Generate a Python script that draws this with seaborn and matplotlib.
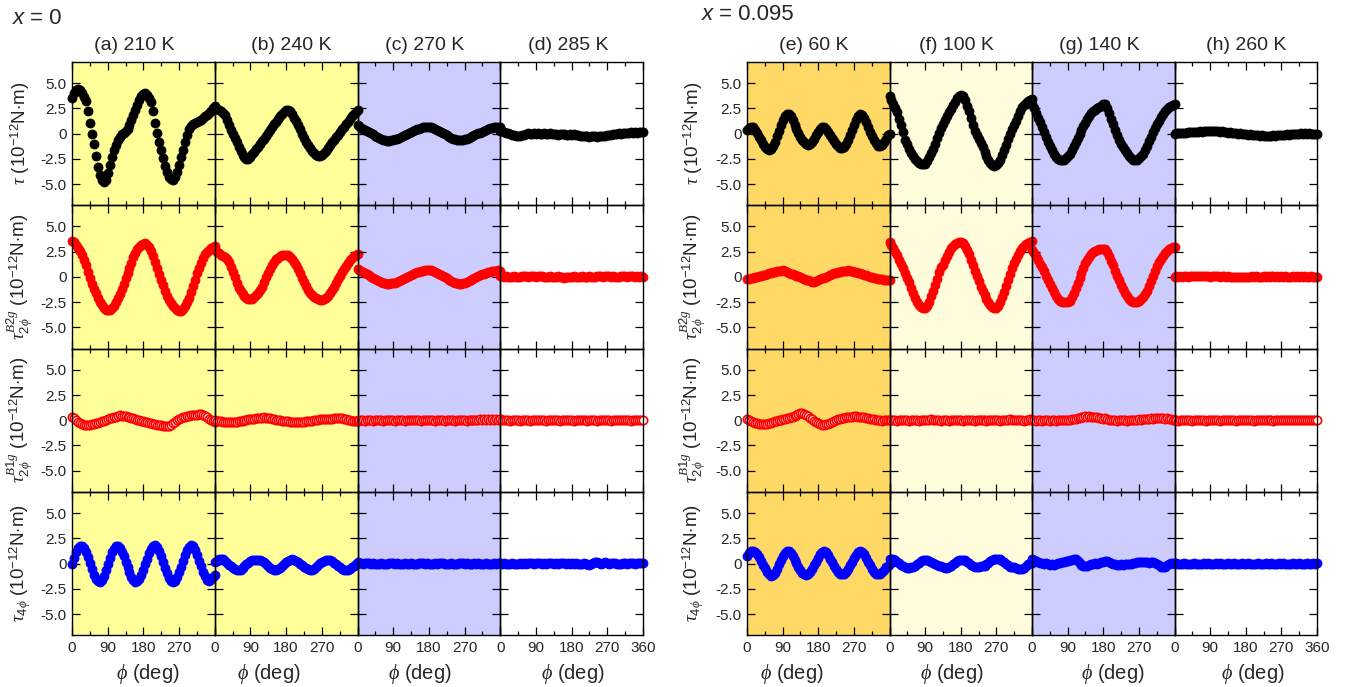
import numpy as np
import pandas as pd
import matplotlib
matplotlib.use("Agg")
import matplotlib.pyplot as plt
from matplotlib.patches import Rectangle
import seaborn as sns

# Rotation angle phi (deg), one reading every 5 degrees
phi = np.arange(0, 361, 5)

# ---------------- x = 0 ----------------
# (a) 210 K
tau_a = [3.5, 4.0, 4.3, 4.4, 4.3, 4.0, 3.6, 3.2, 2.2,
         1.1, 0.0, -1.0, -2.2, -3.3, -4.1, -4.6, -4.8, -4.6,
         -3.9, -3.1, -2.3, -1.6, -1.1, -0.6, -0.3, -0.05, 0.1,
         0.3, 0.5, 0.9, 1.35, 1.8, 2.3, 2.8, 3.3, 3.7,
         3.9, 4.0, 3.8, 3.5, 3.1, 2.2, 1.1, 0.1, -0.8,
         -1.6, -2.4, -3.2, -3.8, -4.3, -4.5, -4.55, -4.3, -3.8,
         -3.1, -2.3, -1.6, -0.8, -0.1, 0.45, 0.75, 0.95, 1.1,
         1.2, 1.3, 1.4, 1.55, 1.7, 1.85, 2.0, 2.25, 2.5,
         2.7]
b2g_a = [3.6, 3.45, 3.2, 2.9, 2.6, 2.2, 1.7, 1.15, 0.5,
         -0.1, -0.65, -1.15, -1.6, -2.05, -2.45, -2.8, -3.05, -3.25,
         -3.3, -3.3, -3.1, -2.85, -2.5, -2.1, -1.7, -1.2, -0.7,
         -0.15, 0.4, 0.9, 1.4, 1.95, 2.4, 2.75, 3.0, 3.2,
         3.3, 3.35, 3.2, 2.95, 2.55, 2.1, 1.5, 0.9, 0.25,
         -0.35, -0.8, -1.35, -1.85, -2.3, -2.6, -2.85, -3.1, -3.3,
         -3.4, -3.4, -3.2, -2.9, -2.5, -2.05, -1.5, -0.9, -0.3,
         0.35, 0.9, 1.4, 1.85, 2.25, 2.5, 2.7, 2.85, 3.0,
         3.05]
b1g_a = [0.3, 0.2, 0.0, -0.15, -0.3, -0.4, -0.45, -0.5, -0.5,
         -0.45, -0.4, -0.35, -0.3, -0.25, -0.15, -0.1, -0.05, 0.05,
         0.1, 0.2, 0.25, 0.3, 0.35, 0.45, 0.5, 0.45, 0.4,
         0.4, 0.35, 0.3, 0.25, 0.2, 0.15, 0.05, 0.0, -0.05,
         -0.1, -0.15, -0.2, -0.25, -0.3, -0.35, -0.4, -0.45, -0.5,
         -0.5, -0.55, -0.6, -0.6, -0.55, -0.45, -0.3, -0.15, 0.0,
         0.1, 0.2, 0.3, 0.35, 0.4, 0.45, 0.5, 0.5, 0.55,
         0.55, 0.6, 0.6, 0.55, 0.45, 0.3, 0.15, 0.0, -0.1,
         -0.15]
t4_a = [0.0, 0.55, 1.1, 1.5, 1.75, 1.75, 1.5, 1.1, 0.6,
        0.05, -0.55, -1.1, -1.5, -1.75, -1.8, -1.6, -1.2, -0.65,
        -0.05, 0.55, 1.1, 1.45, 1.7, 1.7, 1.5, 1.15, 0.7,
        0.2, -0.35, -0.85, -1.3, -1.6, -1.8, -1.75, -1.5, -1.1,
        -0.6, -0.05, 0.5, 1.0, 1.45, 1.75, 1.8, 1.6, 1.2,
        0.7, 0.15, -0.4, -0.95, -1.4, -1.7, -1.8, -1.7, -1.35,
        -0.85, -0.3, 0.25, 0.8, 1.3, 1.65, 1.8, 1.7, 1.35,
        0.85, 0.3, -0.25, -0.8, -1.25, -1.6, -1.7, -1.55, -1.3,
        -1.1]

# (b) 240 K
tau_b = [2.5, 2.45, 2.35, 2.2, 2.0, 1.8, 1.4, 0.9, 0.4,
         -0.05, -0.4, -0.8, -1.3, -1.75, -2.1, -2.35, -2.5, -2.55,
         -2.35, -2.05, -1.8, -1.55, -1.3, -1.0, -0.75, -0.5, -0.2,
         0.1, 0.4, 0.7, 0.95, 1.2, 1.45, 1.7, 1.9, 2.1,
         2.3, 2.35, 2.2, 1.9, 1.6, 1.3, 0.9, 0.45, 0.0,
         -0.4, -0.8, -1.15, -1.45, -1.75, -1.95, -2.1, -2.2, -2.2,
         -2.1, -1.9, -1.7, -1.45, -1.15, -0.85, -0.6, -0.35, -0.1,
         0.2, 0.45, 0.7, 0.95, 1.2, 1.45, 1.7, 1.9, 2.1,
         2.3]
b2g_b = [2.65, 2.5, 2.35, 2.2, 2.05, 1.95, 1.8, 1.45, 1.0,
         0.5, 0.0, -0.6, -1.05, -1.4, -1.7, -1.9, -2.05, -2.15,
         -2.2, -2.15, -2.0, -1.8, -1.55, -1.3, -0.95, -0.5, -0.05,
         0.4, 0.8, 1.15, 1.5, 1.75, 1.9, 2.05, 2.15, 2.2,
         2.2, 2.15, 2.0, 1.8, 1.5, 1.2, 0.8, 0.35, -0.1,
         -0.5, -0.9, -1.25, -1.55, -1.8, -2.0, -2.1, -2.2, -2.25,
         -2.25, -2.2, -2.05, -1.85, -1.6, -1.3, -0.95, -0.6, -0.25,
         0.1, 0.45, 0.8, 1.1, 1.4, 1.65, 1.85, 2.05, 2.2,
         2.3]
b1g_b = [0.0, -0.05, -0.1, -0.1, -0.15, -0.15, -0.2, -0.2, -0.15,
         -0.15, -0.2, -0.15, -0.1, -0.1, -0.05, 0.0, 0.05, 0.1,
         0.1, 0.15, 0.15, 0.2, 0.2, 0.25, 0.25, 0.3, 0.25,
         0.25, 0.2, 0.15, 0.1, 0.05, 0.05, 0.0, -0.05, -0.05,
         -0.1, -0.1, -0.15, -0.15, -0.2, -0.2, -0.15, -0.2, -0.15,
         -0.15, -0.1, -0.1, -0.05, -0.05, 0.0, 0.0, 0.05, 0.1,
         0.1, 0.1, 0.15, 0.1, 0.15, 0.15, 0.2, 0.2, 0.25,
         0.2, 0.2, 0.15, 0.1, 0.05, 0.0, -0.05, -0.05, -0.1,
         -0.1]
t4_b = [0.15, 0.3, 0.45, 0.5, 0.45, 0.3, 0.1, -0.1, -0.25,
        -0.4, -0.5, -0.6, -0.65, -0.6, -0.45, -0.25, -0.05, 0.1,
        0.25, 0.35, 0.4, 0.4, 0.4, 0.35, 0.3, 0.15, -0.05,
        -0.25, -0.4, -0.5, -0.6, -0.6, -0.55, -0.4, -0.2, 0.0,
        0.15, 0.3, 0.4, 0.45, 0.4, 0.3, 0.15, 0.0, -0.15,
        -0.3, -0.45, -0.55, -0.6, -0.6, -0.5, -0.35, -0.15, 0.05,
        0.2, 0.3, 0.4, 0.4, 0.35, 0.25, 0.1, -0.05, -0.2,
        -0.35, -0.5, -0.6, -0.65, -0.6, -0.5, -0.35, -0.2, 0.0,
        0.15]

# (c) 270 K
tau_c = [0.85, 0.75, 0.6, 0.5, 0.4, 0.3, 0.15, 0.05, -0.05,
         -0.2, -0.3, -0.4, -0.5, -0.6, -0.65, -0.7, -0.7, -0.65,
         -0.6, -0.55, -0.5, -0.45, -0.35, -0.25, -0.15, -0.05, 0.1,
         0.2, 0.3, 0.35, 0.45, 0.5, 0.6, 0.65, 0.65, 0.7,
         0.7, 0.65, 0.6, 0.5, 0.4, 0.3, 0.15, 0.05, -0.05,
         -0.15, -0.3, -0.4, -0.5, -0.55, -0.6, -0.6, -0.6, -0.6,
         -0.55, -0.5, -0.4, -0.3, -0.2, -0.1, -0.05, 0.05, 0.1,
         0.2, 0.3, 0.4, 0.5, 0.55, 0.6, 0.65, 0.7, 0.7,
         0.65]
b2g_c = [0.8, 0.7, 0.6, 0.5, 0.4, 0.25, 0.15, 0.0, -0.1,
         -0.2, -0.3, -0.4, -0.5, -0.55, -0.6, -0.65, -0.65, -0.6,
         -0.6, -0.55, -0.5, -0.4, -0.3, -0.2, -0.1, 0.0, 0.1,
         0.2, 0.3, 0.4, 0.45, 0.5, 0.55, 0.6, 0.65, 0.7,
         0.7, 0.65, 0.6, 0.5, 0.4, 0.3, 0.2, 0.05, -0.05,
         -0.15, -0.3, -0.4, -0.5, -0.55, -0.6, -0.65, -0.65, -0.6,
         -0.55, -0.5, -0.4, -0.3, -0.2, -0.1, 0.0, 0.1, 0.2,
         0.25, 0.3, 0.4, 0.45, 0.5, 0.55, 0.6, 0.6, 0.65,
         0.6]
b1g_c = [-0.05, 0.0, 0.05, 0.0, -0.05, 0.0, 0.05, 0.0, -0.05,
         0.0, 0.05, 0.0, 0.0, -0.05, 0.0, 0.05, 0.05, 0.0,
         0.0, -0.05, 0.0, 0.05, 0.0, 0.0, -0.05, 0.0, 0.05,
         0.05, 0.0, 0.0, 0.05, 0.0, -0.05, 0.0, 0.05, 0.0,
         0.0, 0.05, 0.0, -0.05, 0.0, 0.0, 0.05, 0.0, -0.05,
         0.0, 0.05, 0.0, 0.0, -0.05, 0.0, 0.05, 0.05, 0.0,
         0.0, -0.05, 0.0, 0.05, 0.05, 0.0, 0.0, 0.05, 0.1,
         0.05, 0.1, 0.05, 0.1, 0.05, 0.1, 0.05, 0.1, 0.05,
         0.1]
t4_c = [0.05, 0.1, 0.05, 0.0, 0.05, 0.1, 0.05, 0.0, 0.05,
        0.0, -0.05, 0.0, 0.05, 0.0, -0.05, 0.0, 0.05, 0.1,
        0.05, 0.0, 0.05, 0.0, -0.05, 0.0, 0.05, 0.0, 0.0,
        0.05, 0.0, -0.05, 0.0, 0.05, 0.1, 0.05, 0.0, 0.05,
        0.0, -0.05, 0.0, 0.05, 0.0, 0.05, 0.1, 0.05, 0.0,
        -0.05, 0.0, 0.05, 0.0, -0.05, 0.0, 0.05, 0.1, 0.05,
        0.0, 0.05, 0.0, -0.05, 0.0, 0.05, 0.0, 0.05, 0.0,
        -0.05, 0.0, 0.05, 0.0, -0.05, 0.0, 0.05, 0.0, 0.05,
        0.05]

# (d) 285 K
tau_d = [0.3, 0.25, 0.15, 0.1, 0.05, 0.0, -0.1, -0.15, -0.2,
         -0.25, -0.2, -0.15, -0.1, -0.05, 0.05, 0.0, -0.05, 0.05,
         0.0, 0.05, 0.0, -0.05, 0.05, 0.0, 0.0, 0.05, -0.05,
         0.0, -0.05, -0.1, -0.05, 0.0, -0.05, -0.1, -0.1, -0.05,
         -0.1, -0.05, -0.1, -0.15, -0.2, -0.25, -0.25, -0.2, -0.25,
         -0.3, -0.25, -0.2, -0.25, -0.3, -0.25, -0.2, -0.25, -0.2,
         -0.15, -0.1, -0.1, -0.05, 0.0, 0.0, 0.05, 0.0, 0.05,
         0.1, 0.05, 0.1, 0.15, 0.1, 0.15, 0.1, 0.15, 0.2,
         0.15]
b2g_d = [0.1, 0.05, 0.0, 0.05, 0.0, -0.05, 0.0, 0.05, 0.0,
         -0.05, 0.0, 0.05, 0.1, 0.05, 0.0, 0.05, 0.1, 0.05,
         0.0, 0.05, 0.1, 0.05, 0.0, -0.05, 0.0, 0.05, 0.0,
         -0.05, 0.0, 0.05, 0.0, -0.05, -0.1, -0.05, 0.0, -0.05,
         0.0, 0.05, 0.0, -0.05, 0.0, 0.05, 0.0, -0.05, 0.0,
         0.05, 0.0, -0.05, 0.0, 0.05, 0.1, 0.05, 0.0, 0.05,
         0.1, 0.05, 0.0, 0.05, 0.0, -0.05, 0.0, 0.05, 0.1,
         0.05, 0.0, 0.05, 0.1, 0.05, 0.0, 0.05, 0.0, 0.05,
         0.0]
b1g_d = [0.1, 0.05, 0.0, 0.05, 0.0, -0.05, 0.0, 0.0, 0.05,
         0.0, -0.05, 0.0, 0.05, 0.0, 0.0, -0.05, 0.0, 0.05,
         0.05, 0.0, 0.0, 0.05, 0.0, -0.05, 0.0, 0.05, 0.0,
         0.0, 0.05, 0.0, -0.05, 0.0, 0.05, 0.0, 0.0, 0.05,
         0.0, -0.05, 0.0, 0.05, 0.0, 0.0, 0.05, 0.0, -0.05,
         0.0, 0.05, 0.0, 0.0, -0.05, 0.0, 0.05, 0.0, 0.0,
         0.05, 0.0, -0.05, 0.0, 0.05, 0.0, 0.0, 0.05, 0.0,
         0.0, 0.05, 0.0, -0.05, 0.0, 0.05, 0.0, 0.05, 0.0,
         0.05]
t4_d = [0.05, 0.0, 0.05, 0.0, -0.05, 0.0, 0.05, 0.0, -0.05,
        0.0, 0.05, 0.0, 0.05, 0.0, 0.05, 0.1, 0.05, 0.0,
        0.05, 0.1, 0.05, 0.0, 0.05, 0.0, 0.05, 0.1, 0.05,
        0.0, 0.05, 0.0, 0.05, 0.1, 0.05, 0.0, 0.05, 0.0,
        0.05, 0.0, 0.05, 0.0, -0.05, 0.0, 0.05, 0.0, -0.05,
        -0.1, -0.05, 0.05, 0.15, 0.2, 0.1, 0.0, 0.05, 0.15,
        0.1, 0.0, 0.05, 0.1, 0.05, 0.0, -0.05, 0.0, 0.1,
        0.05, 0.0, 0.05, 0.1, 0.05, 0.0, 0.05, 0.1, 0.05,
        0.05]

# ---------------- x = 0.095 ----------------
# (e) 60 K
tau_e = [0.4, 0.6, 0.7, 0.65, 0.4, 0.05, -0.3, -0.65, -1.0,
         -1.3, -1.5, -1.6, -1.5, -1.2, -0.8, -0.25, 0.3, 0.85,
         1.35, 1.7, 1.9, 1.9, 1.7, 1.35, 0.9, 0.45, 0.05,
         -0.3, -0.6, -0.85, -1.05, -1.1, -1.05, -0.8, -0.5, -0.15,
         0.2, 0.5, 0.7, 0.7, 0.5, 0.2, -0.15, -0.45, -0.75,
         -1.0, -1.25, -1.4, -1.45, -1.35, -1.05, -0.6, -0.1, 0.4,
         0.9, 1.35, 1.7, 1.9, 1.85, 1.6, 1.2, 0.7, 0.2,
         -0.25, -0.65, -0.95, -1.2, -1.25, -1.15, -0.85, -0.5, -0.15,
         0.0]
b2g_e = [-0.2, -0.2, -0.15, -0.1, -0.05, 0.0, 0.05, 0.1, 0.15,
         0.2, 0.3, 0.35, 0.4, 0.45, 0.5, 0.55, 0.55, 0.6,
         0.65, 0.6, 0.5, 0.4, 0.3, 0.25, 0.2, 0.1, 0.05,
         0.0, -0.1, -0.2, -0.3, -0.35, -0.45, -0.5, -0.5, -0.45,
         -0.35, -0.25, -0.15, -0.1, -0.05, 0.05, 0.15, 0.25, 0.35,
         0.4, 0.45, 0.5, 0.55, 0.6, 0.6, 0.65, 0.6, 0.55,
         0.5, 0.45, 0.4, 0.35, 0.3, 0.2, 0.15, 0.1, 0.0,
         -0.05, -0.1, -0.15, -0.2, -0.2, -0.25, -0.3, -0.3, -0.3,
         -0.3]
b1g_e = [0.1, 0.0, -0.1, -0.2, -0.25, -0.3, -0.35, -0.35, -0.35,
         -0.35, -0.35, -0.3, -0.25, -0.2, -0.1, -0.05, 0.0, 0.05,
         0.1, 0.15, 0.2, 0.25, 0.3, 0.35, 0.45, 0.55, 0.65,
         0.7, 0.7, 0.65, 0.55, 0.4, 0.25, 0.1, -0.05, -0.2,
         -0.3, -0.4, -0.45, -0.45, -0.4, -0.35, -0.3, -0.2, -0.1,
         0.0, 0.1, 0.15, 0.2, 0.25, 0.3, 0.3, 0.35, 0.35,
         0.4, 0.4, 0.35, 0.35, 0.3, 0.3, 0.25, 0.2, 0.15,
         0.1, 0.1, 0.05, 0.0, 0.0, -0.05, 0.0, 0.0, 0.05,
         0.05]
t4_e = [0.75, 1.0, 1.2, 1.25, 1.15, 0.9, 0.6, 0.25, -0.1,
        -0.45, -0.8, -1.05, -1.2, -1.15, -0.9, -0.5, -0.05, 0.35,
        0.75, 1.05, 1.2, 1.2, 1.0, 0.75, 0.4, 0.05, -0.3,
        -0.65, -0.9, -1.05, -1.1, -1.0, -0.8, -0.5, -0.15, 0.2,
        0.55, 0.9, 1.15, 1.25, 1.15, 0.85, 0.5, 0.15, -0.2,
        -0.55, -0.8, -1.0, -1.05, -1.0, -0.8, -0.5, -0.15, 0.2,
        0.55, 0.85, 1.1, 1.2, 1.15, 0.9, 0.55, 0.2, -0.15,
        -0.5, -0.8, -1.0, -1.05, -1.0, -0.85, -0.6, -0.35, -0.2,
        0.0]

# (f) 100 K
tau_f = [3.7, 3.35, 2.95, 2.55, 2.1, 1.5, 0.85, 0.15, -0.6,
         -1.05, -1.5, -1.9, -2.25, -2.55, -2.75, -2.9, -3.0, -3.05,
         -3.0, -2.75, -2.35, -1.95, -1.5, -1.0, -0.45, 0.1, 0.6,
         0.95, 1.35, 1.75, 2.1, 2.45, 2.8, 3.15, 3.5, 3.75,
         3.85, 3.75, 3.3, 2.75, 2.2, 1.55, 0.9, 0.3, -0.15,
         -0.55, -0.95, -1.35, -1.8, -2.25, -2.65, -2.95, -3.15, -3.2,
         -3.15, -2.95, -2.6, -2.15, -1.65, -1.1, -0.55, -0.05, 0.45,
         0.85, 1.3, 1.75, 2.2, 2.6, 2.85, 3.05, 3.2, 3.3,
         3.45]
b2g_f = [3.45, 3.2, 2.85, 2.5, 2.15, 1.7, 1.3, 0.85, 0.4,
         -0.15, -0.5, -1.1, -1.6, -2.05, -2.45, -2.75, -2.95, -3.1,
         -3.1, -2.85, -2.45, -1.9, -1.4, -0.8, -0.2, 0.45, 0.95,
         1.2, 1.65, 2.1, 2.5, 2.85, 3.1, 3.25, 3.4, 3.45,
         3.45, 3.35, 3.05, 2.7, 2.25, 1.7, 1.15, 0.6, 0.05,
         -0.45, -0.95, -1.4, -1.8, -2.15, -2.5, -2.75, -2.95, -3.1,
         -3.1, -2.9, -2.5, -2.0, -1.5, -0.9, -0.3, 0.3, 0.85,
         1.35, 1.8, 2.2, 2.6, 2.85, 3.05, 3.25, 3.4, 3.5,
         3.6]
b1g_f = [0.05, 0.0, 0.05, 0.0, -0.05, 0.0, 0.05, 0.0, 0.05,
         0.0, -0.05, 0.0, 0.0, 0.05, 0.0, -0.05, 0.0, 0.05,
         0.05, 0.0, 0.05, 0.1, 0.05, 0.0, 0.05, 0.0, -0.05,
         0.0, 0.05, 0.0, -0.05, 0.0, 0.05, 0.0, 0.0, 0.05,
         0.0, -0.05, 0.0, 0.05, 0.0, 0.05, 0.0, -0.05, 0.0,
         0.0, 0.05, 0.0, 0.0, -0.05, 0.0, 0.05, 0.0, 0.0,
         0.05, 0.0, -0.05, 0.0, 0.05, 0.0, 0.05, 0.1, 0.05,
         0.0, 0.05, 0.0, 0.05, 0.0, -0.05, 0.0, 0.05, 0.1,
         0.05]
t4_f = [0.5, 0.5, 0.45, 0.35, 0.2, 0.05, -0.1, -0.25, -0.35,
        -0.45, -0.4, -0.35, -0.3, -0.2, -0.05, 0.1, 0.25, 0.35,
        0.4, 0.4, 0.3, 0.2, 0.1, 0.0, -0.1, -0.2, -0.25,
        -0.35, -0.4, -0.4, -0.35, -0.2, -0.05, 0.1, 0.25, 0.35,
        0.4, 0.4, 0.35, 0.2, 0.05, -0.1, -0.25, -0.35, -0.35,
        -0.3, -0.25, -0.25, -0.2, -0.05, 0.1, 0.25, 0.4, 0.45,
        0.5, 0.5, 0.45, 0.3, 0.15, 0.0, -0.15, -0.3, -0.35,
        -0.35, -0.4, -0.5, -0.55, -0.5, -0.4, -0.25, -0.05, 0.05,
        0.1]

# (g) 140 K
tau_g = [2.95, 2.55, 2.05, 1.55, 1.15, 0.7, 0.2, -0.3, -0.8,
         -1.2, -1.65, -2.05, -2.35, -2.55, -2.6, -2.65, -2.6, -2.45,
         -2.25, -2.0, -1.65, -1.25, -0.85, -0.45, -0.05, 0.35, 0.75,
         1.1, 1.45, 1.75, 2.0, 2.2, 2.35, 2.5, 2.6, 2.75,
         2.9, 2.9, 2.55, 2.05, 1.5, 0.95, 0.4, -0.15, -0.6,
         -1.0, -1.3, -1.6, -1.9, -2.2, -2.45, -2.6, -2.65, -2.6,
         -2.45, -2.25, -2.0, -1.65, -1.2, -0.75, -0.3, 0.15, 0.55,
         0.95, 1.3, 1.65, 1.95, 2.2, 2.4, 2.6, 2.75, 2.85,
         2.9]
b2g_g = [2.65, 2.4, 2.05, 1.65, 1.3, 0.95, 0.55, 0.1, -0.35,
         -0.7, -1.1, -1.45, -1.85, -2.15, -2.35, -2.45, -2.5, -2.5,
         -2.5, -2.35, -2.0, -1.55, -1.1, -0.6, -0.1, 0.4, 0.9,
         1.35, 1.7, 2.0, 2.25, 2.45, 2.6, 2.7, 2.75, 2.8,
         2.8, 2.75, 2.45, 2.05, 1.6, 1.15, 0.6, 0.1, -0.35,
         -0.75, -1.15, -1.55, -1.9, -2.2, -2.4, -2.5, -2.5, -2.45,
         -2.35, -2.2, -2.0, -1.7, -1.35, -0.9, -0.4, 0.1, 0.6,
         1.05, 1.45, 1.8, 2.1, 2.35, 2.55, 2.75, 2.85, 2.95,
         3.0]
b1g_g = [0.05, 0.0, -0.05, 0.0, 0.0, -0.05, 0.0, 0.05, 0.0,
         -0.05, 0.0, 0.0, -0.05, 0.0, 0.05, 0.0, 0.0, 0.05,
         0.0, 0.05, 0.1, 0.1, 0.15, 0.2, 0.25, 0.3, 0.35,
         0.4, 0.35, 0.4, 0.35, 0.3, 0.35, 0.3, 0.25, 0.2,
         0.15, 0.2, 0.1, 0.05, 0.0, 0.05, 0.0, -0.05, 0.0,
         0.0, 0.05, 0.0, -0.05, 0.0, 0.0, 0.05, 0.0, 0.05,
         0.1, 0.05, 0.1, 0.15, 0.1, 0.15, 0.2, 0.15, 0.2,
         0.25, 0.2, 0.25, 0.2, 0.15, 0.2, 0.15, 0.1, 0.05,
         0.0]
t4_g = [0.5, 0.4, 0.3, 0.2, 0.1, 0.05, 0.0, 0.05, -0.05,
        -0.1, -0.05, -0.1, 0.0, 0.05, 0.1, 0.15, 0.2, 0.25,
        0.3, 0.35, 0.4, 0.45, 0.5, 0.3, 0.1, -0.1, -0.2,
        -0.25, -0.2, -0.1, -0.05, 0.0, 0.05, 0.0, 0.1, 0.15,
        0.2, 0.25, 0.3, 0.2, 0.1, 0.0, -0.05, -0.1, -0.1,
        -0.05, -0.1, -0.05, 0.0, -0.05, 0.0, 0.05, 0.1, 0.15,
        0.2, 0.2, 0.15, 0.2, 0.15, 0.1, 0.15, 0.2, 0.1,
        -0.05, -0.15, -0.3, -0.35, -0.3, -0.15, -0.05, 0.05, 0.1,
        0.1]

# (h) 260 K
tau_h = [0.0, 0.05, 0.05, 0.1, 0.1, 0.05, 0.1, 0.15, 0.15,
         0.2, 0.15, 0.2, 0.2, 0.25, 0.2, 0.25, 0.25, 0.3,
         0.25, 0.3, 0.25, 0.3, 0.25, 0.2, 0.25, 0.2, 0.15,
         0.1, 0.15, 0.1, 0.05, 0.05, 0.0, 0.05, 0.0, -0.05,
         -0.05, -0.1, -0.05, -0.1, -0.15, -0.1, -0.15, -0.2, -0.15,
         -0.2, -0.25, -0.2, -0.25, -0.2, -0.15, -0.2, -0.15, -0.1,
         -0.15, -0.1, -0.1, -0.05, -0.1, -0.05, -0.05, 0.0, -0.05,
         0.0, 0.05, 0.0, 0.05, 0.0, 0.05, 0.0, -0.05, 0.0,
         -0.05]
b2g_h = [0.0, 0.05, 0.0, 0.05, 0.0, 0.05, 0.05, 0.0, 0.05,
         0.05, 0.1, 0.05, 0.1, 0.05, 0.05, 0.1, 0.05, 0.05,
         0.0, 0.05, 0.05, 0.1, 0.05, 0.0, 0.05, 0.05, 0.0,
         0.05, 0.0, -0.05, 0.0, 0.0, -0.05, 0.0, 0.0, -0.05,
         0.0, -0.05, 0.0, 0.05, 0.0, 0.05, 0.0, -0.05, 0.0,
         0.05, 0.0, 0.05, 0.0, 0.05, 0.05, 0.0, 0.05, 0.0,
         0.05, 0.0, 0.05, 0.0, -0.05, 0.0, 0.05, 0.0, 0.05,
         0.0, 0.05, 0.0, 0.05, 0.0, 0.0, 0.05, 0.0, 0.0,
         0.0]
b1g_h = [0.05, 0.0, -0.05, 0.0, 0.05, 0.0, 0.0, 0.05, 0.0,
         -0.05, 0.0, 0.05, 0.0, 0.0, 0.05, 0.0, -0.05, 0.0,
         0.0, 0.05, 0.0, 0.05, 0.0, -0.05, 0.0, 0.05, 0.0,
         0.0, 0.05, 0.0, 0.0, -0.05, 0.0, 0.05, 0.0, 0.05,
         0.0, 0.0, 0.05, 0.0, -0.05, 0.0, 0.0, 0.05, 0.0,
         0.05, 0.0, 0.0, 0.05, 0.0, -0.05, 0.0, 0.05, 0.0,
         0.0, 0.05, 0.0, 0.0, 0.05, 0.0, 0.05, 0.0, 0.05,
         0.0, 0.05, 0.0, 0.05, 0.0, 0.0, 0.05, 0.0, 0.05,
         0.0]
t4_h = [0.0, 0.05, 0.0, -0.05, 0.0, 0.05, 0.0, 0.0, -0.05,
        0.0, 0.05, 0.0, -0.05, 0.0, 0.0, 0.05, 0.0, 0.05,
        0.0, -0.05, 0.0, 0.05, 0.0, 0.05, 0.0, -0.05, 0.0,
        0.05, 0.0, 0.0, 0.05, 0.0, -0.05, 0.0, 0.05, 0.0,
        0.0, 0.05, 0.0, 0.0, -0.05, 0.0, 0.05, 0.0, -0.05,
        0.0, 0.05, 0.0, 0.0, 0.05, 0.0, -0.05, 0.0, 0.05,
        0.0, 0.05, 0.0, 0.0, -0.05, 0.0, 0.05, 0.0, 0.0,
        0.05, 0.0, -0.05, 0.0, 0.05, 0.0, 0.0, 0.05, 0.0,
        0.05]

# Panel titles, one per temperature column
titles_x0 = ["(a) 210 K", "(b) 240 K", "(c) 270 K", "(d) 285 K"]
titles_x1 = ["(e) 60 K", "(f) 100 K", "(g) 140 K", "(h) 260 K"]

y_ticks = [-5.0, -2.5, 0.0, 2.5, 5.0]
y_ticklabels = ["-5.0", "-2.5", "0", "2.5", "5.0"]
x_ticks = [0, 90, 180, 270, 360]
x_ticklabels = ["0", "90", "180", "270", "360"]

row_labels = [
    r"$\tau$ (10$^{-12}$N$\cdot$m)",
    r"$\tau^{B2g}_{2\phi}$ (10$^{-12}$N$\cdot$m)",
    r"$\tau^{B1g}_{2\phi}$ (10$^{-12}$N$\cdot$m)",
    r"$\tau_{4\phi}$ (10$^{-12}$N$\cdot$m)",
]

columns_x0 = [
    [tau_a, b2g_a, b1g_a, t4_a],
    [tau_b, b2g_b, b1g_b, t4_b],
    [tau_c, b2g_c, b1g_c, t4_c],
    [tau_d, b2g_d, b1g_d, t4_d],
]
columns_x1 = [
    [tau_e, b2g_e, b1g_e, t4_e],
    [tau_f, b2g_f, b1g_f, t4_f],
    [tau_g, b2g_g, b1g_g, t4_g],
    [tau_h, b2g_h, b1g_h, t4_h],
]

# ---------------- styling ----------------
sns.set_style("ticks")
plt.rcParams["font.family"] = ["Liberation Sans", "DejaVu Sans"]
plt.rcParams.update({
    "mathtext.fontset": "custom",
    "mathtext.rm": "Liberation Sans",
    "mathtext.sf": "Liberation Sans",
    "mathtext.it": "Liberation Serif:italic",
    "mathtext.bf": "Liberation Sans:bold",
    "axes.linewidth": 1.0,
    "axes.edgecolor": "black",
})

W, H = 1356, 687
fig = plt.figure(figsize=(W / 100, H / 100), dpi=100)

TOP, ROW_H = 62.0, 143.3
row_styles = [
    dict(color="black", edgecolor="black", linewidth=0.6, s=42),
    dict(color="#ff0000", edgecolor="#ff0000", linewidth=0.6, s=42),
    dict(color="white", edgecolor="#ff0000", linewidth=1.2, s=36),
    dict(color="#0000ff", edgecolor="#0000ff", linewidth=0.6, s=42),
]

groups = [
    dict(x0=72.0, cw=142.75, cols=columns_x0, titles=titles_x0,
         bg=["#ffff99", "#ffff99", "#ccccff", None],
         title_x=[134, 291, 425, 568],
         xlab_x=[148, 269, 420, 573],
         ylab_x=20, tag="0", tag_x=13, tag_y=18),
    dict(x0=747.0, cw=142.5, cols=columns_x1, titles=titles_x1,
         bg=["#ffd966", "#fffcdc", "#ccccff", None],
         title_x=[814, 956, 1099, 1246],
         xlab_x=[792, 952, 1113, 1253],
         ylab_x=693, tag="0.095", tag_x=702, tag_y=15),
]


def fx(x):
    return x / W


def fy(y):
    return 1 - y / H


for g in groups:
    x0, cw = g["x0"], g["cw"]
    for c, col in enumerate(g["cols"]):
        left = x0 + c * cw
        if g["bg"][c] is not None:
            fig.add_artist(Rectangle((fx(left), fy(TOP + 4 * ROW_H)), cw / W, 4 * ROW_H / H,
                                     transform=fig.transFigure, facecolor=g["bg"][c],
                                     edgecolor="none", zorder=-5))
        for r, vals in enumerate(col):
            top = TOP + r * ROW_H
            ax = fig.add_axes([fx(left), fy(top + ROW_H), cw / W, ROW_H / H])
            ax.set_facecolor("none")
            df = pd.DataFrame({"phi": phi, "torque": vals})
            sns.scatterplot(data=df, x="phi", y="torque", ax=ax, marker="o",
                            clip_on=False, zorder=3, legend=False, **row_styles[r])
            ax.set_xlim(0, 360)
            ax.set_ylim(-7.1, 7.1)
            ax.set_xlabel("")
            ax.set_ylabel("")
            ax.set_xticks(x_ticks)
            ax.set_xticks([45, 135, 225, 315], minor=True)
            ax.set_yticks(y_ticks)
            if r == 3:
                labs = x_ticklabels if c == 3 else x_ticklabels[:-1] + [""]
                ax.set_xticklabels(labs)
            else:
                ax.set_xticklabels([])
            if c == 0:
                ax.set_yticklabels(y_ticklabels)
            else:
                ax.set_yticklabels([])
            ax.tick_params(which="both", direction="in", top=True, right=True,
                           bottom=True, left=True, width=0.9, color="black",
                           labelsize=11, pad=4)
            ax.tick_params(which="major", length=5.5)
            ax.tick_params(which="minor", length=3)
            for sp in ax.spines.values():
                sp.set_visible(True)
                sp.set_linewidth(1.0)
                sp.set_zorder(4)
        fig.text(fx(g["title_x"][c]), fy(45), g["titles"][c], ha="center", va="center",
                 fontsize=14)
        fig.text(fx(g["xlab_x"][c]), fy(674), r"$\phi$ (deg)", ha="center", va="center",
                 fontsize=14.5)
    for r in range(4):
        fig.text(fx(g["ylab_x"]), fy(TOP + (r + 0.5) * ROW_H), row_labels[r],
                 rotation=90, ha="center", va="center", fontsize=13.5)
    fig.text(fx(g["tag_x"]), fy(g["tag_y"]), "x", style="italic", ha="left",
             va="center", fontsize=16)
    fig.text(fx(g["tag_x"] + 17), fy(g["tag_y"]), "= " + g["tag"], ha="left",
             va="center", fontsize=16)

fig.savefig("out.png", dpi=100)
